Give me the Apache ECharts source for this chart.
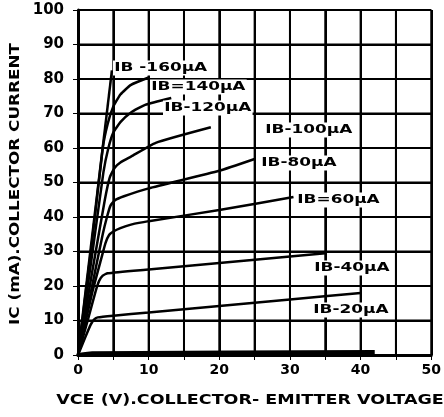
<!DOCTYPE html>
<html>
<head>
<meta charset="utf-8">
<script src="https://cdn.jsdelivr.net/npm/echarts@6/dist/echarts.min.js"></script>
<style>
html,body{margin:0;padding:0;background:#fff;}
#c{width:444px;height:417px;}
</style>
</head>
<body>
<div id="c"></div>
<script>
// Tick labels
const xTicks = ['0', '10', '20', '30', '40', '50'];
const yTicks = ['0', '10', '20', '30', '40', '50', '60', '70', '80', '90', '100'];
// Grid line values
const xGrid = [5, 10, 15, 20, 25, 30, 35, 40, 45, 50];
const yGrid = [10, 20, 30, 40, 50, 60, 70, 80, 90, 100];

// Curves: [Vce (V), Ic (mA)] for each base current
const ib0   = [[0, 0], [2, 0.5], [42, 0.9]];
const ib20  = [[0, 0], [1, 5], [1.8, 8.8], [2.3, 10.3], [2.8, 10.9], [5, 11.4], [10, 12.3], [20, 14.2], [30, 16.1], [40, 18]];
const ib40  = [[0, 0], [1.5, 11], [2.5, 18.5], [3, 21.5], [3.5, 23], [4.2, 23.7], [10, 24.8], [20, 26.7], [35, 29.5]];
const ib60  = [[0, 0], [2, 18], [3.3, 28], [3.9, 32.5], [4.4, 34.8], [5, 35.8], [6, 36.8], [7.5, 37.8], [10, 38.8], [20, 42], [30.5, 45.8]];
const ib80  = [[0, 0], [2, 20], [3.5, 35], [4.1, 40], [4.6, 43.3], [5.2, 44.8], [6.5, 46], [10, 48.3], [20, 53.4], [25, 56.8]];
const ib100 = [[0, 0], [2, 24], [3.8, 45], [4.5, 51.5], [5.2, 54.3], [6, 55.8], [7.5, 57.5], [11, 61.5], [18.8, 66]];
const ib120 = [[0, 0], [2, 29], [3.6, 53], [4.3, 60], [5, 64.5], [6, 67.5], [7.5, 70.3], [9.5, 72.5], [13.2, 74.5]];
const ib140 = [[0, 0], [2, 33], [3.5, 60], [4.2, 67], [5, 72], [6, 75.5], [7.5, 78.3], [10.1, 80.5]];
const ib160 = [[0, 0], [4.8, 82.5]];

const curves = [ib0, ib20, ib40, ib60, ib80, ib100, ib120, ib140, ib160];
const curveLabels = ['IB-20\u00B5A', 'IB-40\u00B5A', 'IB=60\u00B5A', 'IB-80\u00B5A', 'IB-100\u00B5A', 'IB-120\u00B5A', 'IB=140\u00B5A', 'IB -160\u00B5A'];

const chart = echarts.init(document.getElementById('c'), null, {renderer: 'canvas'});
const FONT = '"DejaVu Sans", sans-serif';

// grid lines drawn as line series on the axes' scales
const gridSeries = xGrid.map(v => [[v, 0], [v, 100]]).concat(yGrid.map(v => [[0, v], [50, v]])).map(d => ({
  type: 'line',
  data: d,
  symbol: 'none',
  silent: true,
  z: 1,
  lineStyle: {color: '#000', width: 2}
}));

const curveSeries = curves.map((d, i) => ({
  type: 'line',
  data: d,
  symbol: 'none',
  smooth: 0.15,
  lineStyle: {color: '#000', width: i === 0 ? 4 : 2.5},
  z: 5
}));

// label positions (pixels, left / middle)
const labelPos = [[312, 310], [313, 268], [296, 200], [260, 163], [264, 130], [163, 108], [150, 87], [113, 68]];

const graphics = curveLabels.map((t, i) => ({
  type: 'text',
  x: labelPos[i][0],
  y: labelPos[i][1],
  scaleX: 1.3,
  z: 100,
  style: {
    text: t,
    font: 'bold 13px ' + FONT,
    fill: '#000',
    verticalAlign: 'middle',
    backgroundColor: '#fff',
    padding: [1, 1, 1, 1]
  }
}));

graphics.push({
  type: 'text',
  z: 100,
  x: 15, y: 184,
  rotation: Math.PI / 2,
  scaleX: 1.2,
  style: {
    text: 'IC (mA).COLLECTOR CURRENT',
    font: 'bold 14px ' + FONT,
    fill: '#000',
    align: 'center',
    verticalAlign: 'middle'
  }
});
graphics.push({
  type: 'text',
  z: 100,
  x: 250, y: 400,
  scaleX: 1.25,
  style: {
    text: 'VCE (V).COLLECTOR- EMITTER VOLTAGE',
    font: 'bold 14px ' + FONT,
    fill: '#000',
    align: 'center',
    verticalAlign: 'middle'
  }
});

chart.setOption({
  animation: false,
  backgroundColor: '#fff',
  grid: {left: 78, right: 11, top: 10, bottom: 62},
  xAxis: {
    type: 'value', min: 0, max: 50, interval: 5,
    axisLine: {show: true, onZero: false, lineStyle: {color: '#000', width: 3}},
    splitLine: {show: true, lineStyle: {color: '#000', width: 2}},
    axisLabel: {
      margin: 8, color: '#000', fontFamily: FONT, fontWeight: 'bold', fontSize: 14,
      formatter: v => (v % 10 === 0 ? xTicks[v / 10] : '')
    }
  },
  yAxis: {
    type: 'value', min: 0, max: 100, interval: 10,
    axisLine: {show: true, onZero: false, lineStyle: {color: '#000', width: 3}},
    splitLine: {show: true, lineStyle: {color: '#000', width: 2}},
    axisLabel: {
      margin: 14, color: '#000', fontFamily: FONT, fontWeight: 'bold', fontSize: 15,
      formatter: v => yTicks[Math.round(v / 10)]
    }
  },
  series: gridSeries.concat(curveSeries),
  graphic: graphics
});
chart.getZr().storage.getDisplayList(true);
chart.getZr().refreshImmediately();
</script>
</body>
</html>
